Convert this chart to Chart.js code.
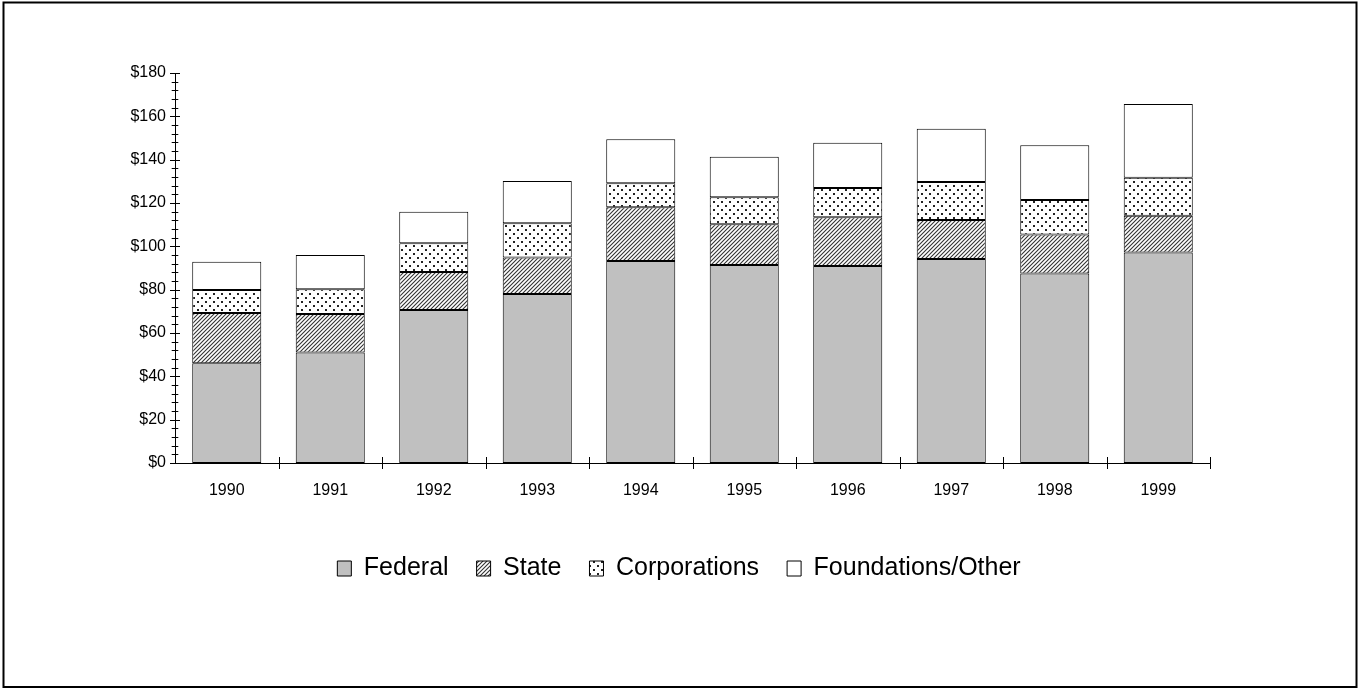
<!DOCTYPE html>
<html>
<head>
<meta charset="utf-8">
<script src="https://cdn.jsdelivr.net/npm/chart.js@4"></script>
<style>
  html, body { margin: 0; padding: 0; background: #fff; }
  #wrap { position: absolute; left: 0; top: 0; width: 1358px; height: 688px; }
</style>
</head>
<body>
<div id="wrap"><canvas id="c" width="1358" height="688"></canvas></div>
<script>
const categories = ['1990','1991','1992','1993','1994','1995','1996','1997','1998','1999'];
const federal      = [46.0, 51.0, 70.6, 78.0, 93.2, 91.4, 90.9, 94.2, 87.5, 97.1];
const state        = [23.2, 17.8, 17.6, 16.8, 24.8, 18.8, 22.5, 18.0, 18.0, 17.0];
const corporations = [10.6, 11.4, 13.2, 15.8, 11.1, 12.4, 13.5, 17.5, 15.9, 17.6];
const foundations  = [13.1, 15.8, 14.6, 19.6, 20.3, 18.8, 20.9, 24.6, 25.2, 34.0];
const seriesNames  = ['Federal', 'State', 'Corporations', 'Foundations/Other'];
const yMin = 0, yMax = 180, yStep = 20, yMinorStep = 4;

const FONT = '"Liberation Sans", Arial, Helvetica, sans-serif';

function hatchPattern() {
  const s = 4;
  const c = document.createElement('canvas');
  c.width = s; c.height = s;
  const x = c.getContext('2d');
  x.fillStyle = '#fff'; x.fillRect(0, 0, s, s);
  x.strokeStyle = '#333'; x.lineWidth = 1.1;
  x.beginPath();
  x.moveTo(-1, s + 1); x.lineTo(s + 1, -1);
  x.moveTo(-1, 1); x.lineTo(1, -1);
  x.moveTo(s - 1, s + 1); x.lineTo(s + 1, s - 1);
  x.stroke();
  return x.createPattern(c, 'repeat');
}
function dotPattern() {
  const c = document.createElement('canvas');
  c.width = 8; c.height = 8;
  const x = c.getContext('2d');
  x.fillStyle = '#fff'; x.fillRect(0, 0, 8, 8);
  x.fillStyle = '#222';
  x.fillRect(1, 1, 2, 2);
  x.fillRect(5, 5, 2, 2);
  return x.createPattern(c, 'repeat');
}

const frame = {
  id: 'frame',
  afterDraw(chart) {
    const ctx = chart.ctx;
    ctx.save();
    ctx.strokeStyle = '#000';
    ctx.lineWidth = 2;
    ctx.strokeRect(3.5, 2.5, 1353, 684.5);
    const y = chart.scales.y, xs = chart.scales.x;
    const ax = chart.chartArea.left, ay = chart.chartArea.bottom;
    ctx.lineWidth = 1;
    ctx.beginPath();
    for (let v = yMin; v <= yMax + 1e-9; v += yMinorStep) {
      const py = Math.round(y.getPixelForValue(v)) + 0.5;
      const major = Math.abs(v % yStep) < 1e-9;
      const h = major ? 5 : 3.3;
      ctx.moveTo(ax - h, py); ctx.lineTo(ax + h, py);
    }
    const n = categories.length;
    const w = (xs.right - xs.left) / n;
    for (let i = 1; i <= n; i++) {
      const px = Math.round(xs.left + i * w) + 0.5;
      ctx.moveTo(px, ay - 6); ctx.lineTo(px, ay + 6);
    }
    ctx.stroke();
    ctx.restore();
  }
};

const fills = ['#c0c0c0', hatchPattern(), dotPattern(), '#ffffff'];
const values = [federal, state, corporations, foundations];

new Chart(document.getElementById('c'), {
  type: 'bar',
  data: {
    labels: categories,
    datasets: seriesNames.map((name, i) => ({
      label: name,
      data: values[i],
      backgroundColor: fills[i],
      borderColor: '#000',
      borderWidth: 1,
      borderSkipped: false,
      categoryPercentage: 1.0,
      barPercentage: 0.667
    }))
  },
  options: {
    responsive: false,
    animation: false,
    devicePixelRatio: 1,
    layout: { padding: { top: 73, right: 0, bottom: 97, left: 0 } },
    plugins: {
      tooltip: { enabled: false },
      legend: {
        position: 'bottom',
        labels: {
          font: { family: FONT, size: 25 },
          color: '#000',
          boxWidth: 14,
          boxHeight: 15,
          padding: 28
        }
      }
    },
    scales: {
      x: {
        stacked: true,
        grid: { display: false, drawTicks: false },
        border: { display: true, color: '#000', width: 1 },
        ticks: { font: { family: FONT, size: 16 }, color: '#000', padding: 18, maxRotation: 0 },
        afterFit(s) { s.height = 65; }
      },
      y: {
        stacked: true,
        min: yMin, max: yMax,
        grid: { display: false, drawTicks: false },
        border: { display: true, color: '#000', width: 1 },
        ticks: {
          stepSize: yStep,
          font: { family: FONT, size: 16 },
          color: '#000',
          padding: 9,
          callback: v => '$' + v
        },
        afterFit(s) { s.width = 175; }
      },
      yr: {
        position: 'right',
        display: true,
        grid: { display: false, drawTicks: false },
        border: { display: false },
        ticks: { display: false },
        afterFit(s) { s.width = 148; }
      }
    }
  },
  plugins: [frame]
});
</script>
</body>
</html>
